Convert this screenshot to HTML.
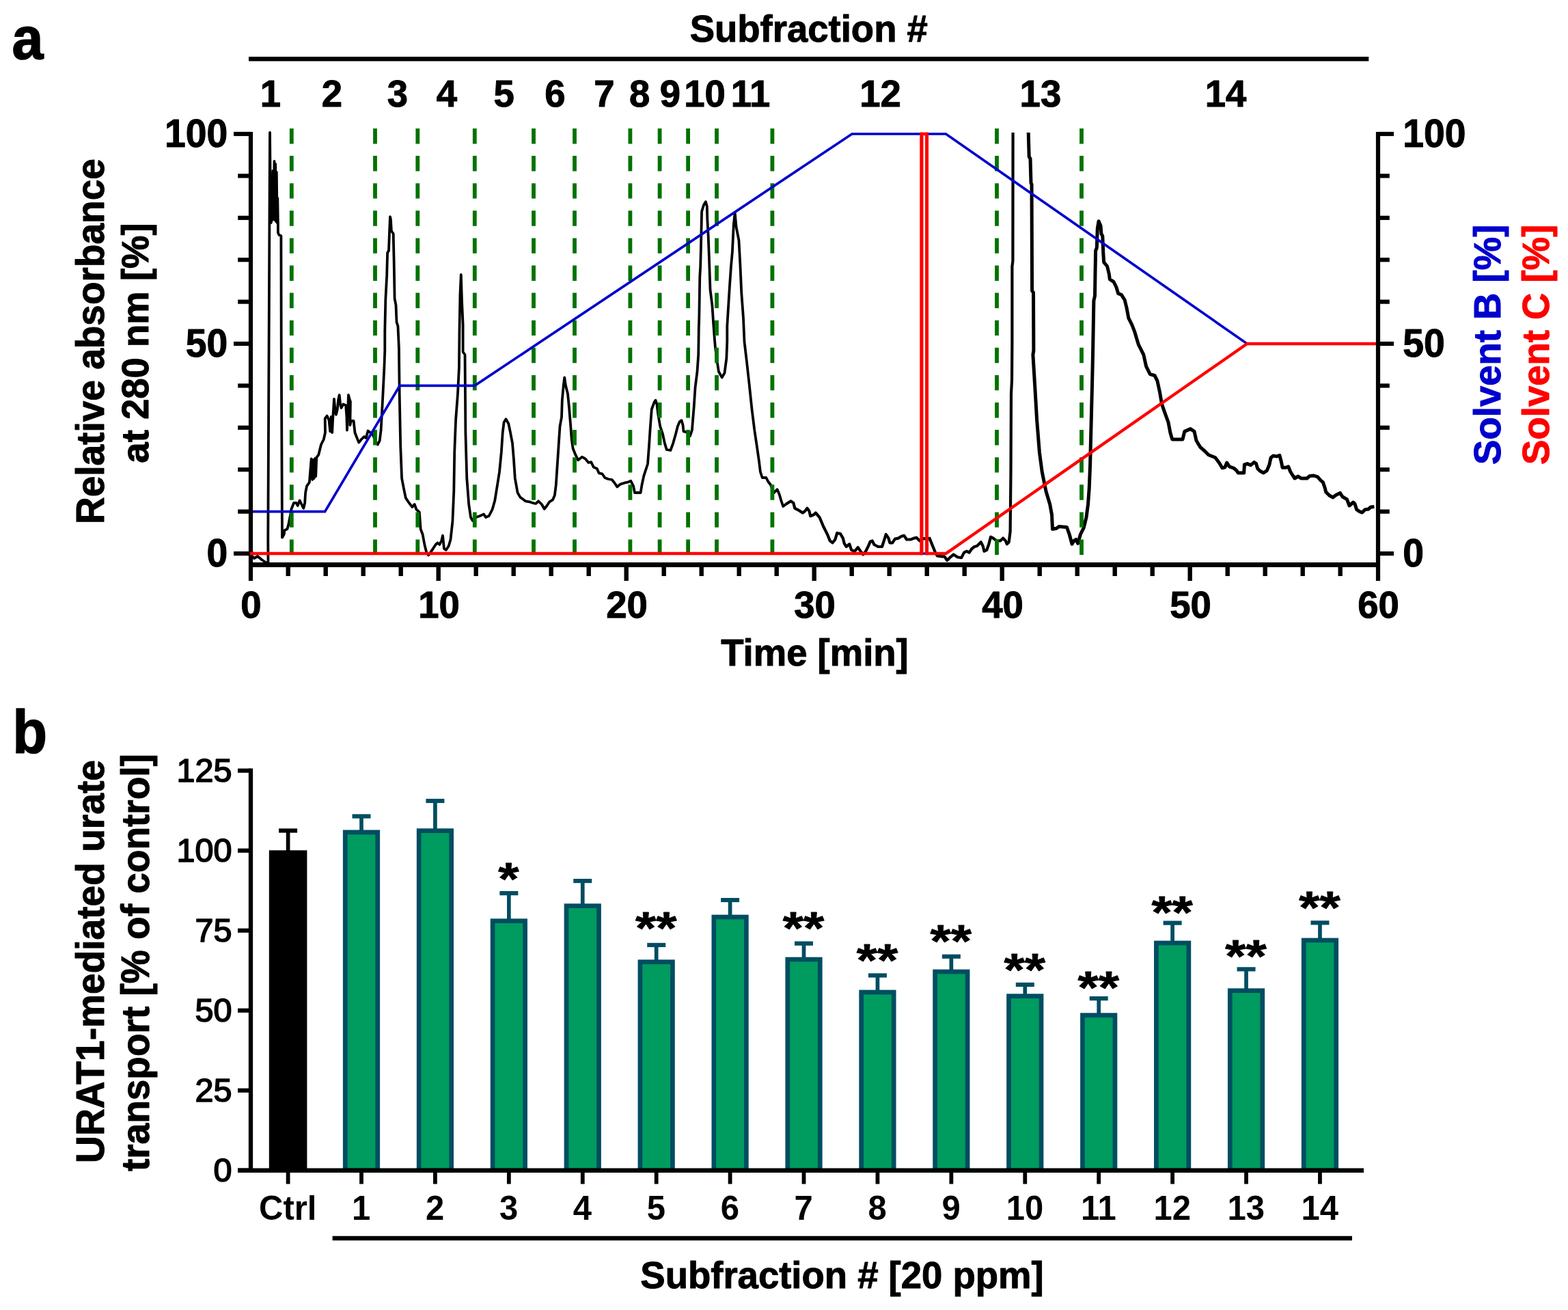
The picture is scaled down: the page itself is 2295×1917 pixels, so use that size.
<!DOCTYPE html>
<html lang="en">
<head>
<meta charset="utf-8">
<title>Subfraction chromatogram and URAT1-mediated urate transport</title>
<style>
html,body{margin:0;padding:0;background:#fff;}
body{width:2295px;height:1917px;overflow:hidden;}
svg{display:block;font-family:'Liberation Sans', Arial, Helvetica, sans-serif;filter:blur(0.45px);}
</style>
</head>
<body>
<svg xmlns="http://www.w3.org/2000/svg" width="2295" height="1917" viewBox="0 0 2295 1917">
<rect width="2295" height="1917" fill="#fff"/>
<g id="panel-a">
<path d="M367.0,812.0 L372.0,817.0 L377.0,814.0 L383.0,819.0 L389.0,823.0 L392.5,824.0 L392.3,790.0 L393.6,500.0 L395.0,194.0 L396.0,300.0 L396.8,326.0 L397.8,260.0 L398.6,322.0 L399.5,250.0 L400.4,318.0 L401.5,236.0 L402.4,322.0 L403.2,240.0 L404.0,324.0 L404.8,252.0 L405.6,326.0 L406.3,290.0 L406.9,328.0 L406.9,340.5 L408.5,343.8 L411.4,345.2 L411.7,500.0 L413.0,786.5 L413.6,786.0 L415.7,781.9 L416.7,776.0 L420.5,774.0 L422.4,766.7 L425.2,753.0 L426.2,745.7 L430.0,736.0 L433.8,736.0 L435.7,740.0 L438.6,732.4 L441.4,738.0 L444.3,743.8 L446.2,736.0 L447.1,721.0 L449.0,711.4 L452.9,705.7 L453.8,694.3 L455.7,671.4 L457.2,702.0 L458.6,673.0 L459.8,700.0 L461.0,671.0 L462.2,697.0 L463.3,669.5 L466.2,665.7 L470.0,650.5 L473.8,643.0 L476.0,633.0 L475.7,612.4 L478.6,608.6 L481.4,614.3 L483.3,631.4 L484.6,610.0 L486.2,633.0 L487.1,614.3 L489.0,583.8 L490.5,600.0 L491.9,606.7 L493.8,599.0 L495.2,585.0 L496.7,578.0 L498.2,592.0 L499.5,597.0 L502.4,591.4 L506.2,593.3 L507.4,610.0 L508.0,629.5 L509.2,600.0 L510.0,578.0 L511.5,584.0 L512.9,587.6 L512.4,622.0 L513.8,616.0 L517.6,616.0 L519.5,633.3 L523.3,642.9 L525.2,647.6 L529.0,642.9 L532.9,639.0 L535.7,641.0 L538.6,630.5 L542.4,633.3 L546.2,637.0 L550.0,646.7 L552.9,650.5 L555.7,644.8 L557.6,629.5 L559.5,595.2 L560.5,576.0 L562.4,538.0 L563.3,513.0 L563.3,484.8 L564.3,439.0 L566.2,402.9 L567.1,370.0 L569.0,366.7 L570.0,340.0 L571.0,317.1 L571.9,321.0 L572.9,338.0 L575.7,342.0 L576.7,385.7 L577.6,437.0 L579.5,446.7 L580.5,471.4 L582.4,477.0 L583.9,509.5 L584.7,576.0 L586.2,652.4 L588.1,700.0 L591.0,715.0 L593.8,728.6 L597.6,734.3 L603.3,741.9 L606.7,738.0 L609.5,745.7 L613.8,749.5 L615.7,774.3 L618.6,782.0 L621.4,797.0 L624.3,808.6 L627.1,812.4 L630.0,808.6 L633.8,802.9 L637.6,797.0 L640.5,794.3 L643.3,797.0 L646.2,791.4 L648.0,783.8 L650.0,803.0 L652.9,804.8 L656.7,799.0 L659.5,789.5 L662.4,763.0 L664.3,719.0 L665.2,662.0 L667.1,614.3 L670.0,576.0 L671.9,538.0 L672.5,481.0 L673.5,430.0 L674.8,401.9 L676.0,440.0 L677.6,475.0 L677.6,515.0 L680.5,519.0 L681.4,633.3 L683.3,700.0 L686.2,738.0 L689.0,757.0 L691.9,762.0 L696.7,757.0 L702.4,755.0 L708.0,752.4 L711.0,757.0 L715.7,755.0 L720.5,745.7 L724.3,732.4 L728.0,709.5 L731.0,690.5 L733.8,662.0 L735.7,633.3 L737.6,618.0 L740.5,613.3 L744.3,620.0 L747.1,633.3 L750.0,648.6 L751.9,671.4 L753.8,700.0 L757.6,721.0 L761.4,727.6 L769.0,733.3 L774.8,734.3 L780.5,736.2 L784.3,737.0 L788.0,733.3 L792.9,738.0 L796.7,744.8 L800.5,740.0 L804.3,734.3 L809.0,731.4 L811.9,724.8 L813.8,709.5 L815.7,681.0 L817.6,652.4 L819.5,623.8 L822.0,610.5 L822.8,585.7 L824.7,564.8 L826.2,552.4 L828.1,564.8 L831.0,576.2 L832.9,595.2 L834.8,618.0 L836.7,642.9 L838.6,656.2 L842.4,665.7 L846.2,673.3 L851.9,668.6 L856.7,671.4 L861.4,677.0 L865.2,676.2 L869.0,683.8 L873.8,685.7 L876.7,692.4 L881.4,693.3 L885.2,699.0 L890.0,701.0 L895.7,702.0 L899.5,706.7 L903.3,712.4 L908.0,708.6 L913.8,706.7 L918.6,705.7 L923.3,703.8 L927.1,711.4 L929.0,721.0 L937.6,721.0 L939.5,709.5 L942.4,696.2 L948.0,679.0 L950.0,652.4 L951.9,623.8 L953.8,599.0 L957.6,588.6 L959.5,585.7 L961.4,591.4 L963.3,606.7 L966.2,623.8 L970.0,635.2 L972.9,648.6 L975.7,658.0 L981.4,659.0 L985.2,648.6 L989.0,635.2 L991.9,623.8 L994.8,617.0 L997.6,615.2 L999.5,622.0 L1000.5,631.4 L1005.2,632.4 L1010.0,638.0 L1012.9,629.5 L1015.7,595.2 L1017.6,566.7 L1020.5,543.8 L1022.2,519.0 L1022.5,500.0 L1022.8,479.0 L1023.3,465.7 L1024.3,404.8 L1025.2,389.5 L1026.2,351.4 L1027.1,309.5 L1030.0,300.0 L1032.9,295.2 L1034.8,302.0 L1035.3,321.0 L1036.7,345.7 L1038.0,380.0 L1039.5,423.8 L1042.4,446.7 L1044.3,475.2 L1046.2,500.0 L1047.1,510.0 L1049.0,524.8 L1051.9,543.8 L1056.7,552.4 L1060.5,545.7 L1063.3,524.8 L1064.3,500.0 L1064.3,477.0 L1066.2,446.7 L1068.0,418.0 L1070.0,389.5 L1071.9,368.6 L1073.8,328.6 L1075.7,311.4 L1077.6,332.4 L1081.4,351.4 L1083.3,385.7 L1085.2,427.6 L1088.0,465.7 L1089.5,500.0 L1092.9,528.6 L1096.7,562.9 L1100.5,599.0 L1104.3,629.5 L1108.0,654.3 L1111.0,675.2 L1112.9,690.5 L1115.7,699.0 L1121.4,699.0 L1124.3,704.8 L1128.0,709.5 L1130.0,715.2 L1132.9,721.0 L1137.6,716.2 L1140.5,722.9 L1143.3,732.4 L1146.2,741.0 L1150.0,738.0" fill="none" stroke="#000" stroke-width="3.8" stroke-linejoin="round" stroke-linecap="butt"/>
<path d="M1150.0,738.0 L1157.6,733.3 L1161.4,736.2 L1163.3,743.8 L1169.0,746.7 L1174.8,750.5 L1178.6,747.6 L1181.4,743.8 L1184.3,747.6 L1186.2,755.2 L1191.0,753.3 L1193.8,750.5 L1199.5,757.0 L1205.2,770.5 L1211.0,782.0 L1214.8,791.4 L1218.6,794.3 L1222.4,789.5 L1225.2,780.0 L1230.0,781.0 L1233.8,787.6 L1235.7,795.2 L1238.6,800.0 L1243.3,796.2 L1246.2,804.8 L1251.0,806.7 L1255.7,801.0 L1259.5,806.7 L1263.3,811.4 L1267.1,806.7 L1271.0,799.0 L1273.8,792.4 L1276.7,791.4 L1279.5,797.0 L1285.2,800.0 L1291.0,800.0 L1293.8,791.4 L1296.7,782.0 L1300.5,787.6 L1302.4,794.3 L1306.2,794.3 L1310.0,788.6 L1314.8,787.6 L1319.5,784.8 L1323.3,783.8 L1327.1,789.5 L1332.9,789.5 L1337.6,787.6 L1341.4,786.7 L1346.2,791.4 L1352.0,788.0 L1357.0,789.0 L1360.5,787.6 L1364.3,797.0 L1369.0,808.6 L1371.9,813.3 L1378.6,814.3 L1382.4,814.3 L1386.2,820.0 L1390.0,816.2 L1395.7,811.4 L1401.4,815.2 L1407.1,816.2 L1411.0,808.6 L1414.8,806.7 L1418.6,808.6 L1422.4,803.0 L1426.2,800.0 L1430.0,799.0 L1435.7,793.3 L1438.6,799.0 L1440.5,806.7 L1444.3,804.8 L1447.1,797.0 L1450.0,785.7 L1453.8,787.6 L1458.6,791.4 L1464.3,791.4 L1468.0,787.6 L1471.9,791.4 L1473.8,796.2 L1476.7,793.3 L1478.6,778.0 L1479.5,690.5 L1480.0,576.0 L1481.0,557.0 L1481.4,500.0 L1481.4,390.0 L1482.4,382.0 L1482.6,194.0" fill="none" stroke="#000" stroke-width="4.2" stroke-linejoin="round" stroke-linecap="butt"/>
<path d="M1505.2,194.0 L1506.2,229.5 L1508.0,232.0 L1509.0,267.6 L1510.0,270.0 L1510.6,425.7 L1512.5,428.0 L1512.9,513.0 L1511.9,519.0 L1514.8,566.7 L1517.6,614.3 L1521.4,662.0 L1525.2,690.5 L1531.0,719.0 L1536.7,738.0 L1539.5,753.3 L1540.5,774.3 L1546.2,773.3 L1550.0,770.5 L1561.4,771.4 L1565.2,782.0 L1569.0,796.2 L1571.9,791.4 L1574.8,789.5 L1577.6,795.2 L1581.4,782.0 L1586.2,772.4 L1590.0,757.0 L1592.5,738.0 L1594.2,715.0 L1595.6,680.0 L1596.6,640.0 L1597.6,600.0 L1598.6,560.0 L1599.5,520.0 L1600.2,480.0 L1600.9,440.0 L1602.5,433.0 L1603.0,400.0 L1603.6,367.0 L1605.3,362.5 L1606.3,334.0 L1608.1,323.8 L1611.0,330.5 L1611.9,342.0 L1613.8,345.7 L1614.8,370.5 L1615.7,383.8 L1620.5,389.5 L1623.3,401.0 L1624.3,408.6 L1630.0,412.4 L1633.8,420.0 L1636.7,429.5 L1641.4,431.4 L1646.2,439.0 L1649.0,450.5 L1651.9,465.7 L1656.7,475.2 L1660.5,484.8 L1663.3,494.3 L1666.2,503.8 L1669.0,509.5 L1673.8,519.0 L1677.6,536.2 L1683.3,547.6 L1690.0,549.5 L1693.8,557.0 L1697.6,574.3 L1700.5,591.4 L1705.2,604.8 L1710.0,618.0 L1712.9,633.3 L1715.7,642.9 L1731.0,642.9 L1733.8,631.4 L1742.4,627.6 L1748.0,631.4 L1751.0,644.8 L1756.7,654.3 L1763.3,660.0 L1769.0,665.7 L1778.6,669.5 L1784.3,677.0 L1789.0,684.8 L1792.9,683.8 L1795.7,677.0 L1799.5,682.9 L1805.7,685.0 L1810.0,688.6 L1812.1,692.0 L1820.7,692.0 L1821.4,680.0 L1825.7,678.6 L1830.7,680.7 L1835.7,676.4 L1838.6,678.6 L1840.7,685.7 L1844.3,689.3 L1849.3,692.0 L1854.3,688.6 L1857.9,680.0 L1860.0,670.0 L1863.6,667.0 L1868.6,667.9 L1872.9,666.4 L1875.0,674.3 L1877.1,684.3 L1881.4,684.3 L1885.7,682.9 L1888.6,690.0 L1892.1,695.7 L1895.0,700.0 L1900.0,697.0 L1904.3,700.0 L1912.9,700.0 L1917.1,696.4 L1922.9,696.0 L1928.6,697.9 L1932.9,702.9 L1936.4,705.7 L1939.3,714.3 L1940.7,720.0 L1945.7,725.0 L1950.7,727.9 L1955.7,724.3 L1961.4,721.4 L1965.0,727.0 L1971.4,730.7 L1975.0,740.0 L1980.7,735.0 L1982.9,737.0 L1985.7,745.7 L1990.0,748.6 L1993.6,750.0 L1997.9,745.7 L2002.9,745.0 L2006.4,742.0 L2011.4,741.4" fill="none" stroke="#000" stroke-width="5.0" stroke-linejoin="round" stroke-linecap="butt"/>
<line x1="426.8" y1="188" x2="426.8" y2="812" stroke="#007200" stroke-width="5.8" stroke-dasharray="22.4 17.7"/>
<line x1="549.0" y1="188" x2="549.0" y2="812" stroke="#007200" stroke-width="5.8" stroke-dasharray="22.4 17.7"/>
<line x1="611.3" y1="188" x2="611.3" y2="812" stroke="#007200" stroke-width="5.8" stroke-dasharray="22.4 17.7"/>
<line x1="694.8" y1="188" x2="694.8" y2="812" stroke="#007200" stroke-width="5.8" stroke-dasharray="22.4 17.7"/>
<line x1="781.0" y1="188" x2="781.0" y2="812" stroke="#007200" stroke-width="5.8" stroke-dasharray="22.4 17.7"/>
<line x1="841.0" y1="188" x2="841.0" y2="812" stroke="#007200" stroke-width="5.8" stroke-dasharray="22.4 17.7"/>
<line x1="922.4" y1="188" x2="922.4" y2="812" stroke="#007200" stroke-width="5.8" stroke-dasharray="22.4 17.7"/>
<line x1="965.6" y1="188" x2="965.6" y2="812" stroke="#007200" stroke-width="5.8" stroke-dasharray="22.4 17.7"/>
<line x1="1007.1" y1="188" x2="1007.1" y2="812" stroke="#007200" stroke-width="5.8" stroke-dasharray="22.4 17.7"/>
<line x1="1049.0" y1="188" x2="1049.0" y2="812" stroke="#007200" stroke-width="5.8" stroke-dasharray="22.4 17.7"/>
<line x1="1130.4" y1="188" x2="1130.4" y2="812" stroke="#007200" stroke-width="5.8" stroke-dasharray="22.4 17.7"/>
<line x1="1459.0" y1="188" x2="1459.0" y2="812" stroke="#007200" stroke-width="5.8" stroke-dasharray="22.4 17.7"/>
<line x1="1583.0" y1="188" x2="1583.0" y2="812" stroke="#007200" stroke-width="5.8" stroke-dasharray="22.4 17.7"/>
<path d="M367.0,748.6 L475.6,748.6 L585.1,564.4 L694.8,564.4 L1247.0,196.0 L1348.8,196.0 L1348.8,810.0 L1356.7,810.0 L1356.7,196.0 L1384.5,196.0 L1825.3,503.0 L2017.0,503.0" fill="none" stroke="#0000cd" stroke-width="3.7" stroke-linejoin="miter"/>
<path d="M367.0,810.0 L1348.8,810.0 L1348.8,196.0 L1356.7,196.0 L1356.7,810.0 L1384.5,810.0 L1825.3,503.0 L2017.0,503.0" fill="none" stroke="#ff0000" stroke-width="4.4" stroke-linejoin="miter"/>
<line x1="1349.0" y1="193.7" x2="1349.0" y2="812.3" stroke="#ff0000" stroke-width="4.9"/>
<line x1="1356.6" y1="193.7" x2="1356.6" y2="812.3" stroke="#ff0000" stroke-width="4.9"/>
<line x1="367.00" y1="193.00" x2="367.00" y2="850.00" stroke="#000" stroke-width="6.2"/>
<line x1="2017.00" y1="193.00" x2="2017.00" y2="850.00" stroke="#000" stroke-width="6.2"/>
<line x1="367.00" y1="826.50" x2="2017.00" y2="826.50" stroke="#000" stroke-width="6.8"/>
<line x1="342.00" y1="810.00" x2="367.00" y2="810.00" stroke="#000" stroke-width="6.2"/>
<line x1="2017.00" y1="810.00" x2="2040.00" y2="810.00" stroke="#000" stroke-width="6.2"/>
<line x1="348.20" y1="748.60" x2="367.00" y2="748.60" stroke="#000" stroke-width="6.2"/>
<line x1="2017.00" y1="748.60" x2="2033.80" y2="748.60" stroke="#000" stroke-width="6.2"/>
<line x1="348.20" y1="687.20" x2="367.00" y2="687.20" stroke="#000" stroke-width="6.2"/>
<line x1="2017.00" y1="687.20" x2="2033.80" y2="687.20" stroke="#000" stroke-width="6.2"/>
<line x1="348.20" y1="625.80" x2="367.00" y2="625.80" stroke="#000" stroke-width="6.2"/>
<line x1="2017.00" y1="625.80" x2="2033.80" y2="625.80" stroke="#000" stroke-width="6.2"/>
<line x1="348.20" y1="564.40" x2="367.00" y2="564.40" stroke="#000" stroke-width="6.2"/>
<line x1="2017.00" y1="564.40" x2="2033.80" y2="564.40" stroke="#000" stroke-width="6.2"/>
<line x1="342.00" y1="503.00" x2="367.00" y2="503.00" stroke="#000" stroke-width="6.2"/>
<line x1="2017.00" y1="503.00" x2="2040.00" y2="503.00" stroke="#000" stroke-width="6.2"/>
<line x1="348.20" y1="441.60" x2="367.00" y2="441.60" stroke="#000" stroke-width="6.2"/>
<line x1="2017.00" y1="441.60" x2="2033.80" y2="441.60" stroke="#000" stroke-width="6.2"/>
<line x1="348.20" y1="380.20" x2="367.00" y2="380.20" stroke="#000" stroke-width="6.2"/>
<line x1="2017.00" y1="380.20" x2="2033.80" y2="380.20" stroke="#000" stroke-width="6.2"/>
<line x1="348.20" y1="318.80" x2="367.00" y2="318.80" stroke="#000" stroke-width="6.2"/>
<line x1="2017.00" y1="318.80" x2="2033.80" y2="318.80" stroke="#000" stroke-width="6.2"/>
<line x1="348.20" y1="257.40" x2="367.00" y2="257.40" stroke="#000" stroke-width="6.2"/>
<line x1="2017.00" y1="257.40" x2="2033.80" y2="257.40" stroke="#000" stroke-width="6.2"/>
<line x1="342.00" y1="196.00" x2="367.00" y2="196.00" stroke="#000" stroke-width="6.2"/>
<line x1="2017.00" y1="196.00" x2="2040.00" y2="196.00" stroke="#000" stroke-width="6.2"/>
<line x1="421.70" y1="826.50" x2="421.70" y2="843.00" stroke="#000" stroke-width="6.4"/>
<line x1="476.70" y1="826.50" x2="476.70" y2="843.00" stroke="#000" stroke-width="6.4"/>
<line x1="531.70" y1="826.50" x2="531.70" y2="843.00" stroke="#000" stroke-width="6.4"/>
<line x1="586.70" y1="826.50" x2="586.70" y2="843.00" stroke="#000" stroke-width="6.4"/>
<line x1="641.70" y1="826.50" x2="641.70" y2="850.00" stroke="#000" stroke-width="6.4"/>
<line x1="696.70" y1="826.50" x2="696.70" y2="843.00" stroke="#000" stroke-width="6.4"/>
<line x1="751.70" y1="826.50" x2="751.70" y2="843.00" stroke="#000" stroke-width="6.4"/>
<line x1="806.70" y1="826.50" x2="806.70" y2="843.00" stroke="#000" stroke-width="6.4"/>
<line x1="861.70" y1="826.50" x2="861.70" y2="843.00" stroke="#000" stroke-width="6.4"/>
<line x1="916.70" y1="826.50" x2="916.70" y2="850.00" stroke="#000" stroke-width="6.4"/>
<line x1="971.70" y1="826.50" x2="971.70" y2="843.00" stroke="#000" stroke-width="6.4"/>
<line x1="1026.70" y1="826.50" x2="1026.70" y2="843.00" stroke="#000" stroke-width="6.4"/>
<line x1="1081.70" y1="826.50" x2="1081.70" y2="843.00" stroke="#000" stroke-width="6.4"/>
<line x1="1136.70" y1="826.50" x2="1136.70" y2="843.00" stroke="#000" stroke-width="6.4"/>
<line x1="1191.70" y1="826.50" x2="1191.70" y2="850.00" stroke="#000" stroke-width="6.4"/>
<line x1="1246.70" y1="826.50" x2="1246.70" y2="843.00" stroke="#000" stroke-width="6.4"/>
<line x1="1301.70" y1="826.50" x2="1301.70" y2="843.00" stroke="#000" stroke-width="6.4"/>
<line x1="1356.70" y1="826.50" x2="1356.70" y2="843.00" stroke="#000" stroke-width="6.4"/>
<line x1="1411.70" y1="826.50" x2="1411.70" y2="843.00" stroke="#000" stroke-width="6.4"/>
<line x1="1466.70" y1="826.50" x2="1466.70" y2="850.00" stroke="#000" stroke-width="6.4"/>
<line x1="1521.70" y1="826.50" x2="1521.70" y2="843.00" stroke="#000" stroke-width="6.4"/>
<line x1="1576.70" y1="826.50" x2="1576.70" y2="843.00" stroke="#000" stroke-width="6.4"/>
<line x1="1631.70" y1="826.50" x2="1631.70" y2="843.00" stroke="#000" stroke-width="6.4"/>
<line x1="1686.70" y1="826.50" x2="1686.70" y2="843.00" stroke="#000" stroke-width="6.4"/>
<line x1="1741.70" y1="826.50" x2="1741.70" y2="850.00" stroke="#000" stroke-width="6.4"/>
<line x1="1796.70" y1="826.50" x2="1796.70" y2="843.00" stroke="#000" stroke-width="6.4"/>
<line x1="1851.70" y1="826.50" x2="1851.70" y2="843.00" stroke="#000" stroke-width="6.4"/>
<line x1="1906.70" y1="826.50" x2="1906.70" y2="843.00" stroke="#000" stroke-width="6.4"/>
<line x1="1961.70" y1="826.50" x2="1961.70" y2="843.00" stroke="#000" stroke-width="6.4"/>
<line x1="365.8" y1="810.0" x2="372" y2="810.0" stroke="#ff0000" stroke-width="4.7"/>
<text transform="translate(333.30 829.30) scale(1 1.03)" font-size="55.3" font-weight="bold" text-anchor="end" fill="#000" stroke="#000" stroke-width="1.0" stroke-linejoin="round">0</text>
<text transform="translate(2053.30 829.30) scale(1 1.03)" font-size="55.3" font-weight="bold" text-anchor="start" fill="#000" stroke="#000" stroke-width="1.0" stroke-linejoin="round">0</text>
<text transform="translate(333.30 522.30) scale(1 1.03)" font-size="55.3" font-weight="bold" text-anchor="end" fill="#000" stroke="#000" stroke-width="1.0" stroke-linejoin="round">50</text>
<text transform="translate(2053.30 522.30) scale(1 1.03)" font-size="55.3" font-weight="bold" text-anchor="start" fill="#000" stroke="#000" stroke-width="1.0" stroke-linejoin="round">50</text>
<text transform="translate(333.30 215.30) scale(1 1.03)" font-size="55.3" font-weight="bold" text-anchor="end" fill="#000" stroke="#000" stroke-width="1.0" stroke-linejoin="round">100</text>
<text transform="translate(2053.30 215.30) scale(1 1.03)" font-size="55.3" font-weight="bold" text-anchor="start" fill="#000" stroke="#000" stroke-width="1.0" stroke-linejoin="round">100</text>
<text transform="translate(367.50 904.00) scale(1 1.03)" font-size="54.5" font-weight="bold" text-anchor="middle" fill="#000" stroke="#000" stroke-width="1.0" stroke-linejoin="round">0</text>
<text transform="translate(642.50 904.00) scale(1 1.03)" font-size="54.5" font-weight="bold" text-anchor="middle" fill="#000" stroke="#000" stroke-width="1.0" stroke-linejoin="round">10</text>
<text transform="translate(917.50 904.00) scale(1 1.03)" font-size="54.5" font-weight="bold" text-anchor="middle" fill="#000" stroke="#000" stroke-width="1.0" stroke-linejoin="round">20</text>
<text transform="translate(1192.50 904.00) scale(1 1.03)" font-size="54.5" font-weight="bold" text-anchor="middle" fill="#000" stroke="#000" stroke-width="1.0" stroke-linejoin="round">30</text>
<text transform="translate(1467.50 904.00) scale(1 1.03)" font-size="54.5" font-weight="bold" text-anchor="middle" fill="#000" stroke="#000" stroke-width="1.0" stroke-linejoin="round">40</text>
<text transform="translate(1742.50 904.00) scale(1 1.03)" font-size="54.5" font-weight="bold" text-anchor="middle" fill="#000" stroke="#000" stroke-width="1.0" stroke-linejoin="round">50</text>
<text transform="translate(2017.50 904.00) scale(1 1.03)" font-size="54.5" font-weight="bold" text-anchor="middle" fill="#000" stroke="#000" stroke-width="1.0" stroke-linejoin="round">60</text>
<text transform="translate(1192.50 974.00) scale(1 1.03)" font-size="54.5" font-weight="bold" text-anchor="middle" fill="#000" stroke="#000" stroke-width="1.0" stroke-linejoin="round">Time [min]</text>
<text transform="translate(152.00 499.60) rotate(-90) scale(1 1.03)" font-size="55" font-weight="bold" text-anchor="middle" fill="#000" stroke="#000" stroke-width="1.0" stroke-linejoin="round">Relative absorbance</text>
<text transform="translate(217.00 502.00) rotate(-90) scale(1 1.03)" font-size="54.5" font-weight="bold" text-anchor="middle" fill="#000" stroke="#000" stroke-width="1.0" stroke-linejoin="round">at 280 nm [%]</text>
<text transform="translate(2195.60 504.30) rotate(-90) scale(1 1.03)" font-size="54.5" font-weight="bold" text-anchor="middle" fill="#0000cd" stroke="#0000cd" stroke-width="1.0" stroke-linejoin="round">Solvent B [%]</text>
<text transform="translate(2266.70 504.30) rotate(-90) scale(1 1.03)" font-size="54.5" font-weight="bold" text-anchor="middle" fill="#ff0000" stroke="#ff0000" stroke-width="1.0" stroke-linejoin="round">Solvent C [%]</text>
<text transform="translate(1183.80 61.00) scale(1 1.03)" font-size="54.5" font-weight="bold" text-anchor="middle" fill="#000" stroke="#000" stroke-width="1.0" stroke-linejoin="round">Subfraction #</text>
<line x1="364.00" y1="86.30" x2="2003.30" y2="86.30" stroke="#000" stroke-width="6.4"/>
<text transform="translate(396.00 156.00) scale(1 1.03)" font-size="54.5" font-weight="bold" text-anchor="middle" fill="#000" stroke="#000" stroke-width="1.0" stroke-linejoin="round">1</text>
<text transform="translate(485.80 156.00) scale(1 1.03)" font-size="54.5" font-weight="bold" text-anchor="middle" fill="#000" stroke="#000" stroke-width="1.0" stroke-linejoin="round">2</text>
<text transform="translate(582.00 156.00) scale(1 1.03)" font-size="54.5" font-weight="bold" text-anchor="middle" fill="#000" stroke="#000" stroke-width="1.0" stroke-linejoin="round">3</text>
<text transform="translate(653.80 156.00) scale(1 1.03)" font-size="54.5" font-weight="bold" text-anchor="middle" fill="#000" stroke="#000" stroke-width="1.0" stroke-linejoin="round">4</text>
<text transform="translate(737.60 156.00) scale(1 1.03)" font-size="54.5" font-weight="bold" text-anchor="middle" fill="#000" stroke="#000" stroke-width="1.0" stroke-linejoin="round">5</text>
<text transform="translate(812.30 156.00) scale(1 1.03)" font-size="54.5" font-weight="bold" text-anchor="middle" fill="#000" stroke="#000" stroke-width="1.0" stroke-linejoin="round">6</text>
<text transform="translate(884.30 156.00) scale(1 1.03)" font-size="54.5" font-weight="bold" text-anchor="middle" fill="#000" stroke="#000" stroke-width="1.0" stroke-linejoin="round">7</text>
<text transform="translate(936.10 156.00) scale(1 1.03)" font-size="54.5" font-weight="bold" text-anchor="middle" fill="#000" stroke="#000" stroke-width="1.0" stroke-linejoin="round">8</text>
<text transform="translate(981.00 156.00) scale(1 1.03)" font-size="54.5" font-weight="bold" text-anchor="middle" fill="#000" stroke="#000" stroke-width="1.0" stroke-linejoin="round">9</text>
<text transform="translate(1031.60 156.00) scale(1 1.03)" font-size="54.5" font-weight="bold" text-anchor="middle" fill="#000" stroke="#000" stroke-width="1.0" stroke-linejoin="round">10</text>
<text transform="translate(1098.60 156.00) scale(1 1.03)" font-size="54.5" font-weight="bold" text-anchor="middle" fill="#000" stroke="#000" stroke-width="1.0" stroke-linejoin="round">11</text>
<text transform="translate(1288.50 156.00) scale(1 1.03)" font-size="54.5" font-weight="bold" text-anchor="middle" fill="#000" stroke="#000" stroke-width="1.0" stroke-linejoin="round">12</text>
<text transform="translate(1522.90 156.00) scale(1 1.03)" font-size="54.5" font-weight="bold" text-anchor="middle" fill="#000" stroke="#000" stroke-width="1.0" stroke-linejoin="round">13</text>
<text transform="translate(1794.00 156.00) scale(1 1.03)" font-size="54.5" font-weight="bold" text-anchor="middle" fill="#000" stroke="#000" stroke-width="1.0" stroke-linejoin="round">14</text>
<text transform="translate(17.50 86.30) scale(1 1.06)" font-size="82.5" font-weight="bold" text-anchor="start" fill="#000" stroke="#000" stroke-width="1.6" stroke-linejoin="round">a</text>
</g>
<g id="panel-b">
<text transform="translate(18.50 1101.80) scale(1 1.07)" font-size="82.5" font-weight="bold" text-anchor="start" fill="#000" stroke="#000" stroke-width="1.6" stroke-linejoin="round">b</text>
<text transform="translate(152.00 1407.00) rotate(-90) scale(1 1.03)" font-size="55.1" font-weight="bold" text-anchor="middle" fill="#000" stroke="#000" stroke-width="1.0" stroke-linejoin="round">URAT1-mediated urate</text>
<text transform="translate(218.00 1408.60) rotate(-90) scale(1 1.03)" font-size="55.0" font-weight="bold" text-anchor="middle" fill="#000" stroke="#000" stroke-width="1.0" stroke-linejoin="round">transport [% of control]</text>
<rect x="393.80" y="1244.30" width="55.6" height="468.40" fill="#000"/>
<line x1="421.60" y1="1215.50" x2="421.60" y2="1245.30" stroke="#000" stroke-width="5.7"/>
<line x1="408.10" y1="1215.50" x2="435.10" y2="1215.50" stroke="#000" stroke-width="6.2"/>
<rect x="505.25" y="1217.85" width="47.50" height="494.85" fill="#009b5f" stroke="#004d61" stroke-width="6.7"/>
<line x1="529.00" y1="1194.50" x2="529.00" y2="1215.50" stroke="#004d61" stroke-width="5.7"/>
<line x1="515.50" y1="1194.50" x2="542.50" y2="1194.50" stroke="#004d61" stroke-width="6.2"/>
<rect x="613.17" y="1215.65" width="47.50" height="497.05" fill="#009b5f" stroke="#004d61" stroke-width="6.7"/>
<line x1="636.92" y1="1172.00" x2="636.92" y2="1213.30" stroke="#004d61" stroke-width="5.7"/>
<line x1="623.42" y1="1172.00" x2="650.42" y2="1172.00" stroke="#004d61" stroke-width="6.2"/>
<rect x="721.09" y="1347.65" width="47.50" height="365.05" fill="#009b5f" stroke="#004d61" stroke-width="6.7"/>
<line x1="744.84" y1="1307.10" x2="744.84" y2="1345.30" stroke="#004d61" stroke-width="5.7"/>
<line x1="731.34" y1="1307.10" x2="758.34" y2="1307.10" stroke="#004d61" stroke-width="6.2"/>
<text transform="translate(744.34 1308.90) scale(1.16 1.0)" font-size="67" font-weight="bold" text-anchor="middle" fill="#000" stroke="#000" stroke-width="0.8" stroke-linejoin="round">*</text>
<rect x="829.01" y="1325.65" width="47.50" height="387.05" fill="#009b5f" stroke="#004d61" stroke-width="6.7"/>
<line x1="852.76" y1="1289.10" x2="852.76" y2="1323.30" stroke="#004d61" stroke-width="5.7"/>
<line x1="839.26" y1="1289.10" x2="866.26" y2="1289.10" stroke="#004d61" stroke-width="6.2"/>
<rect x="936.93" y="1407.65" width="47.50" height="305.05" fill="#009b5f" stroke="#004d61" stroke-width="6.7"/>
<line x1="960.68" y1="1382.90" x2="960.68" y2="1405.30" stroke="#004d61" stroke-width="5.7"/>
<line x1="947.18" y1="1382.90" x2="974.18" y2="1382.90" stroke="#004d61" stroke-width="6.2"/>
<text transform="translate(960.18 1380.90) scale(1.16 1.0)" font-size="67" font-weight="bold" text-anchor="middle" fill="#000" stroke="#000" stroke-width="0.8" stroke-linejoin="round">**</text>
<rect x="1044.85" y="1341.95" width="47.50" height="370.75" fill="#009b5f" stroke="#004d61" stroke-width="6.7"/>
<line x1="1068.60" y1="1317.10" x2="1068.60" y2="1339.60" stroke="#004d61" stroke-width="5.7"/>
<line x1="1055.10" y1="1317.10" x2="1082.10" y2="1317.10" stroke="#004d61" stroke-width="6.2"/>
<rect x="1152.77" y="1403.95" width="47.50" height="308.75" fill="#009b5f" stroke="#004d61" stroke-width="6.7"/>
<line x1="1176.52" y1="1380.60" x2="1176.52" y2="1401.60" stroke="#004d61" stroke-width="5.7"/>
<line x1="1163.02" y1="1380.60" x2="1190.02" y2="1380.60" stroke="#004d61" stroke-width="6.2"/>
<text transform="translate(1176.02 1380.90) scale(1.16 1.0)" font-size="67" font-weight="bold" text-anchor="middle" fill="#000" stroke="#000" stroke-width="0.8" stroke-linejoin="round">**</text>
<rect x="1260.69" y="1451.95" width="47.50" height="260.75" fill="#009b5f" stroke="#004d61" stroke-width="6.7"/>
<line x1="1284.44" y1="1427.40" x2="1284.44" y2="1449.60" stroke="#004d61" stroke-width="5.7"/>
<line x1="1270.94" y1="1427.40" x2="1297.94" y2="1427.40" stroke="#004d61" stroke-width="6.2"/>
<text transform="translate(1283.94 1427.50) scale(1.16 1.0)" font-size="67" font-weight="bold" text-anchor="middle" fill="#000" stroke="#000" stroke-width="0.8" stroke-linejoin="round">**</text>
<rect x="1368.61" y="1421.95" width="47.50" height="290.75" fill="#009b5f" stroke="#004d61" stroke-width="6.7"/>
<line x1="1392.36" y1="1399.70" x2="1392.36" y2="1419.60" stroke="#004d61" stroke-width="5.7"/>
<line x1="1378.86" y1="1399.70" x2="1405.86" y2="1399.70" stroke="#004d61" stroke-width="6.2"/>
<text transform="translate(1391.86 1399.80) scale(1.16 1.0)" font-size="67" font-weight="bold" text-anchor="middle" fill="#000" stroke="#000" stroke-width="0.8" stroke-linejoin="round">**</text>
<rect x="1476.53" y="1457.65" width="47.50" height="255.05" fill="#009b5f" stroke="#004d61" stroke-width="6.7"/>
<line x1="1500.28" y1="1440.90" x2="1500.28" y2="1455.30" stroke="#004d61" stroke-width="5.7"/>
<line x1="1486.78" y1="1440.90" x2="1513.78" y2="1440.90" stroke="#004d61" stroke-width="6.2"/>
<text transform="translate(1499.78 1441.80) scale(1.16 1.0)" font-size="67" font-weight="bold" text-anchor="middle" fill="#000" stroke="#000" stroke-width="0.8" stroke-linejoin="round">**</text>
<rect x="1584.45" y="1485.65" width="47.50" height="227.05" fill="#009b5f" stroke="#004d61" stroke-width="6.7"/>
<line x1="1608.20" y1="1461.10" x2="1608.20" y2="1483.30" stroke="#004d61" stroke-width="5.7"/>
<line x1="1594.70" y1="1461.10" x2="1621.70" y2="1461.10" stroke="#004d61" stroke-width="6.2"/>
<text transform="translate(1607.70 1467.50) scale(1.16 1.0)" font-size="67" font-weight="bold" text-anchor="middle" fill="#000" stroke="#000" stroke-width="0.8" stroke-linejoin="round">**</text>
<rect x="1692.37" y="1379.95" width="47.50" height="332.75" fill="#009b5f" stroke="#004d61" stroke-width="6.7"/>
<line x1="1716.12" y1="1350.60" x2="1716.12" y2="1377.60" stroke="#004d61" stroke-width="5.7"/>
<line x1="1702.62" y1="1350.60" x2="1729.62" y2="1350.60" stroke="#004d61" stroke-width="6.2"/>
<text transform="translate(1715.62 1357.50) scale(1.16 1.0)" font-size="67" font-weight="bold" text-anchor="middle" fill="#000" stroke="#000" stroke-width="0.8" stroke-linejoin="round">**</text>
<rect x="1800.29" y="1449.65" width="47.50" height="263.05" fill="#009b5f" stroke="#004d61" stroke-width="6.7"/>
<line x1="1824.04" y1="1418.30" x2="1824.04" y2="1447.30" stroke="#004d61" stroke-width="5.7"/>
<line x1="1810.54" y1="1418.30" x2="1837.54" y2="1418.30" stroke="#004d61" stroke-width="6.2"/>
<text transform="translate(1823.54 1421.80) scale(1.16 1.0)" font-size="67" font-weight="bold" text-anchor="middle" fill="#000" stroke="#000" stroke-width="0.8" stroke-linejoin="round">**</text>
<rect x="1908.21" y="1375.95" width="47.50" height="336.75" fill="#009b5f" stroke="#004d61" stroke-width="6.7"/>
<line x1="1931.96" y1="1350.30" x2="1931.96" y2="1373.60" stroke="#004d61" stroke-width="5.7"/>
<line x1="1918.46" y1="1350.30" x2="1945.46" y2="1350.30" stroke="#004d61" stroke-width="6.2"/>
<text transform="translate(1931.46 1351.20) scale(1.16 1.0)" font-size="67" font-weight="bold" text-anchor="middle" fill="#000" stroke="#000" stroke-width="0.8" stroke-linejoin="round">**</text>
<line x1="367.00" y1="1124.60" x2="367.00" y2="1716.00" stroke="#000" stroke-width="6.3"/>
<line x1="348.00" y1="1712.70" x2="1996.00" y2="1712.70" stroke="#000" stroke-width="6.6"/>
<line x1="348.00" y1="1712.70" x2="367.00" y2="1712.70" stroke="#000" stroke-width="6.2"/>
<text transform="translate(339.50 1728.50)" font-size="48.5" font-weight="normal" text-anchor="end" fill="#000" stroke="#000" stroke-width="1.7" stroke-linejoin="round">0</text>
<line x1="348.00" y1="1595.70" x2="367.00" y2="1595.70" stroke="#000" stroke-width="6.2"/>
<text transform="translate(339.50 1611.50)" font-size="48.5" font-weight="normal" text-anchor="end" fill="#000" stroke="#000" stroke-width="1.7" stroke-linejoin="round">25</text>
<line x1="348.00" y1="1478.70" x2="367.00" y2="1478.70" stroke="#000" stroke-width="6.2"/>
<text transform="translate(339.50 1494.50)" font-size="48.5" font-weight="normal" text-anchor="end" fill="#000" stroke="#000" stroke-width="1.7" stroke-linejoin="round">50</text>
<line x1="348.00" y1="1361.70" x2="367.00" y2="1361.70" stroke="#000" stroke-width="6.2"/>
<text transform="translate(339.50 1377.50)" font-size="48.5" font-weight="normal" text-anchor="end" fill="#000" stroke="#000" stroke-width="1.7" stroke-linejoin="round">75</text>
<line x1="348.00" y1="1244.70" x2="367.00" y2="1244.70" stroke="#000" stroke-width="6.2"/>
<text transform="translate(339.50 1260.50)" font-size="48.5" font-weight="normal" text-anchor="end" fill="#000" stroke="#000" stroke-width="1.7" stroke-linejoin="round">100</text>
<line x1="348.00" y1="1127.70" x2="367.00" y2="1127.70" stroke="#000" stroke-width="6.2"/>
<text transform="translate(339.50 1143.50)" font-size="48.5" font-weight="normal" text-anchor="end" fill="#000" stroke="#000" stroke-width="1.7" stroke-linejoin="round">125</text>
<line x1="421.60" y1="1712.70" x2="421.60" y2="1732.60" stroke="#000" stroke-width="5.8"/>
<text transform="translate(421.30 1785.00) scale(1 1.03)" font-size="49" font-weight="bold" text-anchor="middle" fill="#000">Ctrl</text>
<line x1="529.00" y1="1712.70" x2="529.00" y2="1732.60" stroke="#000" stroke-width="5.8"/>
<text transform="translate(528.70 1785.00) scale(1 1.03)" font-size="49" font-weight="bold" text-anchor="middle" fill="#000">1</text>
<line x1="636.92" y1="1712.70" x2="636.92" y2="1732.60" stroke="#000" stroke-width="5.8"/>
<text transform="translate(636.62 1785.00) scale(1 1.03)" font-size="49" font-weight="bold" text-anchor="middle" fill="#000">2</text>
<line x1="744.84" y1="1712.70" x2="744.84" y2="1732.60" stroke="#000" stroke-width="5.8"/>
<text transform="translate(744.54 1785.00) scale(1 1.03)" font-size="49" font-weight="bold" text-anchor="middle" fill="#000">3</text>
<line x1="852.76" y1="1712.70" x2="852.76" y2="1732.60" stroke="#000" stroke-width="5.8"/>
<text transform="translate(852.46 1785.00) scale(1 1.03)" font-size="49" font-weight="bold" text-anchor="middle" fill="#000">4</text>
<line x1="960.68" y1="1712.70" x2="960.68" y2="1732.60" stroke="#000" stroke-width="5.8"/>
<text transform="translate(960.38 1785.00) scale(1 1.03)" font-size="49" font-weight="bold" text-anchor="middle" fill="#000">5</text>
<line x1="1068.60" y1="1712.70" x2="1068.60" y2="1732.60" stroke="#000" stroke-width="5.8"/>
<text transform="translate(1068.30 1785.00) scale(1 1.03)" font-size="49" font-weight="bold" text-anchor="middle" fill="#000">6</text>
<line x1="1176.52" y1="1712.70" x2="1176.52" y2="1732.60" stroke="#000" stroke-width="5.8"/>
<text transform="translate(1176.22 1785.00) scale(1 1.03)" font-size="49" font-weight="bold" text-anchor="middle" fill="#000">7</text>
<line x1="1284.44" y1="1712.70" x2="1284.44" y2="1732.60" stroke="#000" stroke-width="5.8"/>
<text transform="translate(1284.14 1785.00) scale(1 1.03)" font-size="49" font-weight="bold" text-anchor="middle" fill="#000">8</text>
<line x1="1392.36" y1="1712.70" x2="1392.36" y2="1732.60" stroke="#000" stroke-width="5.8"/>
<text transform="translate(1392.06 1785.00) scale(1 1.03)" font-size="49" font-weight="bold" text-anchor="middle" fill="#000">9</text>
<line x1="1500.28" y1="1712.70" x2="1500.28" y2="1732.60" stroke="#000" stroke-width="5.8"/>
<text transform="translate(1499.98 1785.00) scale(1 1.03)" font-size="49" font-weight="bold" text-anchor="middle" fill="#000">10</text>
<line x1="1608.20" y1="1712.70" x2="1608.20" y2="1732.60" stroke="#000" stroke-width="5.8"/>
<text transform="translate(1607.90 1785.00) scale(1 1.03)" font-size="49" font-weight="bold" text-anchor="middle" fill="#000">11</text>
<line x1="1716.12" y1="1712.70" x2="1716.12" y2="1732.60" stroke="#000" stroke-width="5.8"/>
<text transform="translate(1715.82 1785.00) scale(1 1.03)" font-size="49" font-weight="bold" text-anchor="middle" fill="#000">12</text>
<line x1="1824.04" y1="1712.70" x2="1824.04" y2="1732.60" stroke="#000" stroke-width="5.8"/>
<text transform="translate(1823.74 1785.00) scale(1 1.03)" font-size="49" font-weight="bold" text-anchor="middle" fill="#000">13</text>
<line x1="1931.96" y1="1712.70" x2="1931.96" y2="1732.60" stroke="#000" stroke-width="5.8"/>
<text transform="translate(1931.66 1785.00) scale(1 1.03)" font-size="49" font-weight="bold" text-anchor="middle" fill="#000">14</text>
<line x1="486.60" y1="1812.00" x2="1979.00" y2="1812.00" stroke="#000" stroke-width="6.3"/>
<text transform="translate(1232.50 1884.80) scale(1 1.03)" font-size="54.5" font-weight="bold" text-anchor="middle" fill="#000" stroke="#000" stroke-width="1.0" stroke-linejoin="round">Subfraction # [20 ppm]</text>
</g>
</svg>
</body>
</html>
